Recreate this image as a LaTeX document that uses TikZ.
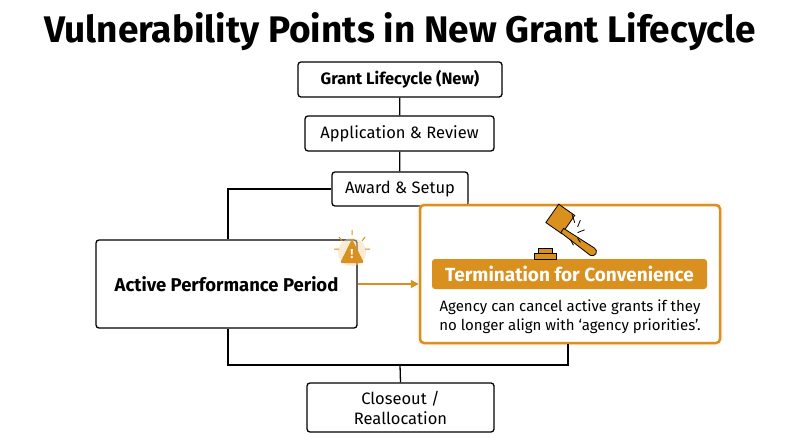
\documentclass[tikz,border=0pt]{standalone}
\usepackage{fontspec}
\setmainfont{Fira Sans}
\usetikzlibrary{arrows.meta}
\definecolor{org}{HTML}{D9901E}
\definecolor{orgl}{HTML}{F7D9A6}
\tikzset{box/.style={draw=black,line width=1.3pt,rounded corners=3pt,fill=white,align=center,inner sep=0pt},
ln/.style={line width=1.3pt}}
\begin{document}
\begin{tikzpicture}[x=1pt,y=-1pt]
\useasboundingbox (0,0) rectangle (800,447);
\fill[white] (0,0) rectangle (800,447);
\node[font=\fontsize{37}{40}\selectfont\bfseries] (title) at (400,32) {Vulnerability Points in New Grant Lifecycle};
\coordinate (c1) at (228,189);
\coordinate (c2) at (228,365);
\coordinate (c3) at (568,365);
\coordinate (c4) at (400,365);
\node[box,minimum width=204pt,minimum height=35pt,font=\fontsize{16.5}{19}\selectfont\bfseries] (g) at (400,79.5) {Grant Lifecycle (New)};
\node[box,minimum width=189pt,minimum height=35pt,font=\fontsize{16.5}{19}\selectfont] (a) at (399.5,133.5) {Application \& Review};
\node[box,minimum width=136pt,minimum height=34pt,font=\fontsize{16.5}{19}\selectfont] (w) at (400,189) {Award \& Setup};
\node[box,minimum width=261pt,minimum height=88pt,font=\fontsize{18.5}{21}\selectfont\bfseries] (p) at (226.5,284) {Active Performance Period};
\node[box,minimum width=187pt,minimum height=49pt,font=\fontsize{16.5}{20}\selectfont] (c) at (400.5,407.5) {Closeout /\\Reallocation};
\draw[ln] (g) -- (a);
\draw[ln] (a) -- (w);
\draw[ln] (w.west) -- (c1) -- (p.north -| c1);
\draw[ln] (c4) -- (c.north);
\foreach \i/\o in {9/0.08,6/0.12,3/0.2}{
\draw[orgl,line width=\i pt,opacity=\o,rounded corners=5pt] (420,205) rectangle (720,343);}
\node[draw=org,line width=2.5pt,rounded corners=4pt,fill=white,minimum width=300pt,minimum height=138pt,inner sep=0pt] (t) at (570,274) {};
\draw[ln] (p.south -| c1) -- (c2) -- (c3) -- (t.south -| c3);
\node[fill=org,rounded corners=3pt,minimum width=275pt,minimum height=30pt,text=white,font=\fontsize{19}{21}\selectfont\bfseries,inner sep=0pt] (tl) at (569.5,274) {Termination for Convenience};
\node[align=center,font=\fontsize{15}{19}\selectfont,inner sep=0pt] (td) at (570,317) {Agency can cancel active grants if they\\no longer align with ‘agency priorities’.};
\draw[org,line width=1.5pt,-{Triangle[length=8pt,width=8pt]}] (p.east) -- (p.east -| t.west);
\begin{scope}[shift={(572,234)},scale=1.4]
\fill[org,draw=black,line width=0.8pt] (-27,14) rectangle (-11,18);
\fill[org,draw=black,line width=0.8pt] (-24,10) rectangle (-14,14);
\fill[org,draw=black,line width=0.8pt,rotate=-35] (-20,-12) rectangle (-6,4);
\fill[org,draw=black,line width=0.8pt] (-6,-4) -- (16,10) arc(-60:120:3) -- (-8,-1) -- cycle;
\draw[black,line width=0.8pt] (0,-14) -- (2,-8) (6,-10) -- (4,-5) (9,-3) -- (4,-1) (-1,4) -- (1,8) (4,3) -- (6,6);
\end{scope}
\fill[orgl,opacity=0.5] (352,252) circle (14);
\fill[org,rounded corners=1.5pt] (340,263) -- (352,239) -- (364,263) -- cycle;
\node[text=white,font=\fontsize{13}{13}\selectfont\bfseries,inner sep=0pt] (ex) at (352,254) {!};
\draw[org,line width=1pt] (352,230)--(352,235) (339,237)--(342,241) (365,237)--(362,241) (334,249)--(339,249) (370,249)--(365,249);
\end{tikzpicture}
\end{document}
